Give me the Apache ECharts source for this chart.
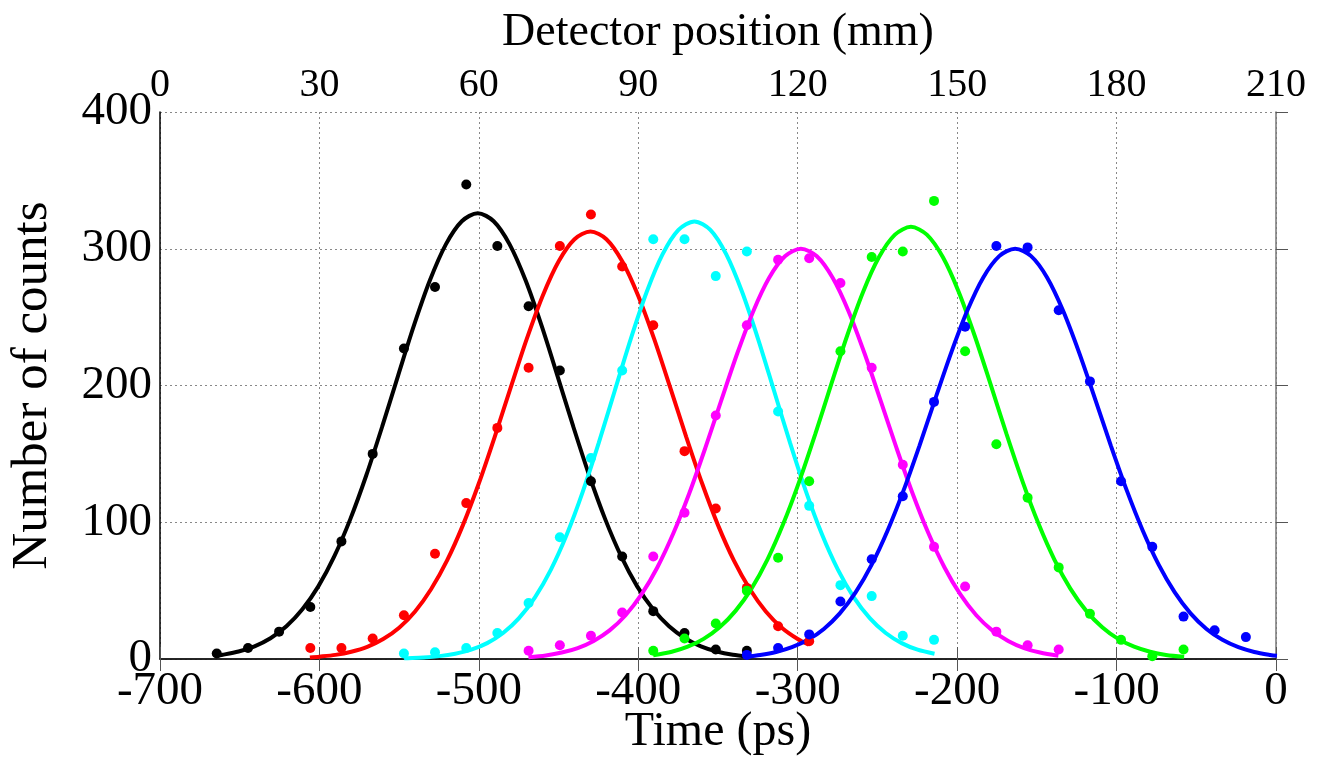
<!DOCTYPE html>
<html>
<head>
<meta charset="utf-8">
<script src="https://cdn.jsdelivr.net/npm/echarts@6/dist/echarts.min.js"></script>
<style>
html,body{margin:0;padding:0;background:#fff;overflow:hidden;}
#chart{width:1318px;height:759px;}
</style>
</head>
<body>
<div id="chart"></div>
<script>
// Axis ticks
const timeTicks = [-700, -600, -500, -400, -300, -200, -100, 0];
const positionTicks = [0, 30, 60, 90, 120, 150, 180, 210];
const countTicks = [0, 100, 200, 300, 400];

// Measured points [time (ps), counts]
const pointsBlack = [[-664.4,4],[-644.8,8],[-625.3,20],[-605.7,38],[-586.2,86],[-566.6,150],[-547.0,227],[-527.5,272],[-507.9,347],[-488.4,302],[-468.8,258],[-449.2,211],[-429.7,130],[-410.1,75],[-390.6,35],[-371.0,19],[-351.4,7],[-331.9,6]];
const pointsRed = [[-605.7,8],[-586.2,8],[-566.6,15],[-547.0,32],[-527.5,77],[-507.9,114],[-488.4,169],[-468.8,213],[-449.2,302],[-429.7,325],[-410.1,287],[-390.6,244],[-371.0,152],[-351.4,110],[-331.9,52],[-312.3,24],[-292.8,13]];
const pointsCyan = [[-547.0,4],[-527.5,5],[-507.9,8],[-488.4,19],[-468.8,41],[-449.2,89],[-429.7,147],[-410.1,211],[-390.6,307],[-371.0,307],[-351.4,280],[-331.9,298],[-312.3,181],[-292.8,112],[-273.2,54],[-253.6,46],[-234.1,17],[-214.5,14]];
const pointsMagenta = [[-468.8,6],[-449.2,10],[-429.7,17],[-410.1,34],[-390.6,75],[-371.0,107],[-351.4,178],[-331.9,244],[-312.3,292],[-292.8,293],[-273.2,275],[-253.6,213],[-234.1,142],[-214.5,82],[-195.0,53],[-175.4,20],[-155.8,10],[-136.3,7]];
const pointsGreen = [[-390.6,6],[-371.0,15],[-351.4,26],[-331.9,50],[-312.3,74],[-292.8,130],[-273.2,225],[-253.6,294],[-234.1,298],[-214.5,335],[-195.0,225],[-175.4,157],[-155.8,118],[-136.3,67],[-116.7,33],[-97.2,14],[-77.6,2],[-58.0,7]];
const pointsBlue = [[-331.9,3],[-312.3,8],[-292.8,18],[-273.2,42],[-253.6,73],[-234.1,119],[-214.5,188],[-195.0,243],[-175.4,302],[-155.8,301],[-136.3,255],[-116.7,203],[-97.2,130],[-77.6,82],[-58.0,31],[-38.5,21],[-18.9,16],[0.6,4]];

// Fitted curves [time (ps), counts]
const fitBlack = [[-664.4,2.5],[-660.7,3.1],[-650.7,5.5],[-640.7,9.3],[-630.7,15.2],[-620.7,23.9],[-610.7,36.3],[-600.7,53.1],[-590.7,75.0],[-580.7,102.1],[-570.7,134.0],[-560.7,169.7],[-550.7,207.1],[-540.7,243.9],[-530.7,276.9],[-520.7,303.2],[-510.7,320.1],[-500.7,326],[-490.7,320.1],[-480.7,303.2],[-470.7,276.9],[-460.7,243.9],[-450.7,207.1],[-440.7,169.7],[-430.7,134.0],[-420.7,102.1],[-410.7,75.0],[-400.7,53.1],[-390.7,36.3],[-380.7,23.9],[-370.7,15.2],[-360.7,9.3],[-350.7,5.5],[-340.7,3.1],[-331.9,1.9]];
const fitRed = [[-606,1.1],[-600,1.7],[-590,3.0],[-580,5.3],[-570,8.9],[-560,14.6],[-550,22.9],[-540,34.8],[-530,51.0],[-520,71.9],[-510,97.9],[-500,128.5],[-490,162.7],[-480,198.6],[-470,233.9],[-460,265.5],[-450,290.7],[-440,307.0],[-430,312.6],[-420,307.0],[-410,290.7],[-400,265.5],[-390,233.9],[-380,198.6],[-370,162.7],[-360,128.5],[-350,97.9],[-340,71.9],[-330,51.0],[-320,34.8],[-310,22.9],[-300,14.6],[-293,10.4]];
const fitCyan = [[-546.9,0.5],[-544.8,0.6],[-534.8,1.1],[-524.8,2.1],[-514.8,3.9],[-504.8,6.8],[-494.8,11.6],[-484.8,19.0],[-474.8,29.9],[-464.8,45.1],[-454.8,65.4],[-444.8,91.2],[-434.8,122.4],[-424.8,158.0],[-414.8,196.0],[-404.8,233.8],[-394.8,268.2],[-384.8,295.9],[-374.8,313.8],[-364.8,320],[-354.8,313.8],[-344.8,295.9],[-334.8,268.2],[-324.8,233.8],[-314.8,196.0],[-304.8,158.0],[-294.8,122.4],[-284.8,91.2],[-274.8,65.4],[-264.8,45.1],[-254.8,29.9],[-244.8,19.0],[-234.8,11.6],[-224.8,6.8],[-214.2,3.8]];
const fitMagenta = [[-468.9,1.3],[-458,2.6],[-448,4.7],[-438,8.0],[-428,13.2],[-418,20.9],[-408,32.0],[-398,47.2],[-388,67.1],[-378,91.9],[-368,121.2],[-358,154.2],[-348,188.9],[-338,223.2],[-328,254.0],[-318,278.6],[-308,294.5],[-298,300],[-288,294.5],[-278,278.6],[-268,254.0],[-258,223.2],[-248,188.9],[-238,154.2],[-228,121.2],[-218,91.9],[-208,67.1],[-198,47.2],[-188,32.0],[-178,20.9],[-168,13.2],[-158,8.0],[-148,4.7],[-136.5,2.4]];
const fitGreen = [[-390.6,2.8],[-379,5.3],[-369,9.0],[-359,14.7],[-349,23.2],[-339,35.2],[-329,51.5],[-319,72.7],[-309,99.0],[-299,129.9],[-289,164.4],[-279,200.8],[-269,236.4],[-259,268.4],[-249,293.9],[-239,310.3],[-229,316],[-219,310.3],[-209,293.9],[-199,268.4],[-189,236.4],[-179,200.8],[-169,164.4],[-159,129.9],[-149,99.0],[-139,72.7],[-129,51.5],[-119,35.2],[-109,23.2],[-99,14.7],[-89,9.0],[-79,5.3],[-69,3.0],[-57.6,1.6]];
const fitBlue = [[-331.9,1.7],[-323.6,2.9],[-313.6,5.1],[-303.6,8.6],[-293.6,14.0],[-283.6,22.0],[-273.6,33.4],[-263.6,48.9],[-253.6,69.0],[-243.6,94.0],[-233.6,123.3],[-223.6,156.1],[-213.6,190.6],[-203.6,224.4],[-193.6,254.8],[-183.6,279.0],[-173.6,294.6],[-163.6,300],[-153.6,294.6],[-143.6,279.0],[-133.6,254.8],[-123.6,224.4],[-113.6,190.6],[-103.6,156.1],[-93.6,123.3],[-83.6,94.0],[-73.6,69.0],[-63.6,48.9],[-53.6,33.4],[-43.6,22.0],[-33.6,14.0],[-23.6,8.6],[-13.6,5.1],[-3.6,2.9],[0.6,2.3]];

const groups = [
  {color:'#000000', pts:pointsBlack, fit:fitBlack},
  {color:'#ff0000', pts:pointsRed, fit:fitRed},
  {color:'#00ffff', pts:pointsCyan, fit:fitCyan},
  {color:'#ff00ff', pts:pointsMagenta, fit:fitMagenta},
  {color:'#00ff00', pts:pointsGreen, fit:fitGreen},
  {color:'#0000ff', pts:pointsBlue, fit:fitBlue}
];

const FONT = "'Liberation Serif','Times New Roman',serif";
const txt = size => ({color:'#000', fontFamily:FONT, fontSize:size});

const series = [];
groups.forEach(g => {
  series.push({type:'line', xAxisIndex:0, yAxisIndex:0, data:g.fit, showSymbol:false, smooth:0.3,
    lineStyle:{color:g.color, width:4}, z:2, silent:true});
});
groups.forEach(g => {
  series.push({type:'scatter', xAxisIndex:0, yAxisIndex:0, data:g.pts, symbol:'circle', symbolSize:10,
    itemStyle:{color:g.color, opacity:1}, z:3, silent:true});
});

const chart = echarts.init(document.getElementById('chart'), null, {renderer:'canvas'});
chart.setOption({
  animation:false,
  backgroundColor:'#fff',
  grid:{left:160, right:42, top:112, bottom:100, show:false, containLabel:false, outerBoundsMode:'none'},
  xAxis:[
    {type:'value', position:'bottom', min:timeTicks[0], max:timeTicks[timeTicks.length-1], interval:100,
     name:'Time (ps)', nameLocation:'middle', nameGap:49, nameMoveOverlap:false, nameTextStyle:txt(48),
     axisLine:{show:true, lineStyle:{color:'#777', width:1.5}},
     axisTick:{show:true, inside:true, length:12, lineStyle:{color:'#555'}},
     axisLabel:Object.assign({margin:9}, txt(47)),
     splitLine:{show:true, lineStyle:{color:'#888', type:[2,3], width:1}}},
    {type:'value', position:'top', min:positionTicks[0], max:positionTicks[positionTicks.length-1], interval:30,
     name:'Detector position (mm)', nameLocation:'middle', nameGap:56, nameMoveOverlap:false, nameTextStyle:txt(46),
     axisLine:{show:true, lineStyle:{color:'#000', width:1.5}},
     axisTick:{show:true, inside:true, length:12, lineStyle:{color:'#555'}},
     axisLabel:Object.assign({margin:7}, txt(40)),
     splitLine:{show:false}}
  ],
  yAxis:[
    {type:'value', position:'left', min:countTicks[0], max:countTicks[countTicks.length-1], interval:100,
     name:'Number of counts', nameLocation:'middle', nameGap:102, nameMoveOverlap:false, nameRotate:90, nameTextStyle:txt(51),
     axisLine:{show:true, lineStyle:{color:'#777', width:1.5}},
     axisTick:{show:true, inside:true, length:12, lineStyle:{color:'#555'}},
     axisLabel:Object.assign({margin:8}, txt(47)),
     splitLine:{show:true, lineStyle:{color:'#888', type:[2,3], width:1}}},
    {type:'value', position:'right', min:countTicks[0], max:countTicks[countTicks.length-1], interval:100,
     axisLine:{show:true, lineStyle:{color:'#000', width:1.5}},
     axisTick:{show:false}, axisLabel:{show:false}, splitLine:{show:false}}
  ],
  series:series
});
</script>
</body>
</html>
